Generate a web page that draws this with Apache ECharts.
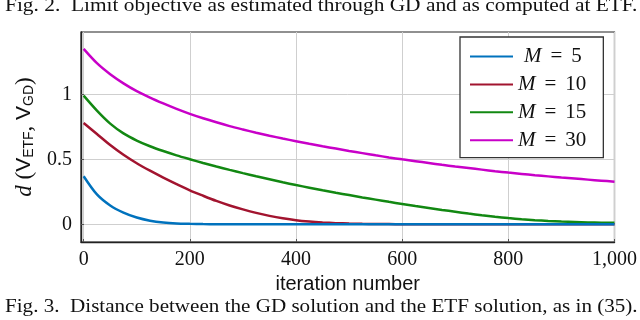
<!DOCTYPE html>
<html>
<head>
<meta charset="utf-8">
<script src="https://cdn.jsdelivr.net/npm/echarts@6/dist/echarts.min.js"></script>
<style>html,body{margin:0;padding:0;background:#fff}#c{width:640px;height:320px}</style>
</head>
<body>
<div id="c"></div>
<script>
const iterations = [0,25,50,75,100,125,150,175,200,225,250,275,300,325,350,375,400,425,450,475,500,
                    525,550,575,600,625,650,675,700,725,750,775,800,825,850,875,900,925,950,975,1000];
const m5  = [0.37,0.23,0.145,0.09,0.052,0.028,0.014,0.007,0.004,0.002,0.001,0,0,0,0,0,0,0,0,0,0,
             0,0,0,0,0,0,0,0,0,0,0,0,0,0,0,0,0,0,0,0];
const m10 = [0.78,0.695,0.61,0.535,0.47,0.413,0.36,0.31,0.262,0.22,0.18,0.145,0.115,0.088,0.065,0.046,0.031,0.021,0.014,0.009,0.006,
             0.004,0.003,0.002,0.001,0,0,0,0,0,0,0,0,0,0,0,0,0,0,0,0];
const m15 = [0.99,0.875,0.775,0.70,0.645,0.601,0.564,0.531,0.501,0.472,0.445,0.419,0.394,0.37,0.347,0.324,0.302,0.282,0.262,0.243,0.225,
             0.207,0.19,0.173,0.157,0.141,0.126,0.111,0.097,0.083,0.07,0.058,0.048,0.039,0.032,0.026,0.021,0.018,0.015,0.013,0.012];
const m30 = [1.35,1.24,1.155,1.085,1.025,0.975,0.93,0.888,0.85,0.816,0.785,0.756,0.73,0.705,0.682,0.66,0.64,0.62,0.601,0.583,0.565,
             0.548,0.531,0.515,0.50,0.486,0.472,0.458,0.445,0.433,0.421,0.409,0.398,0.388,0.378,0.369,0.36,0.352,0.344,0.336,0.328];
const seriesNames = ['M = 5','M = 10','M = 15','M = 30'];
const seriesValues = [m5, m10, m15, m30];
const colors = ['#0072BD','#A2142F','#128812','#C800C8'];
const xTicks = [0,200,400,600,800,1000];
const yTicks = [0,0.5,1];
const topCaption = 'Fig. 2.  Limit objective as estimated through GD and as computed at ETF.';
const bottomCaption = 'Fig. 3.  Distance between the GD solution and the ETF solution, as in (35).';

const chart = echarts.init(document.getElementById('c'), null, {renderer:'canvas'});
const serif = '"Liberation Serif", "DejaVu Serif", serif';
const sans = '"Liberation Sans", Arial, sans-serif';

chart.setOption({
  animation: false,
  backgroundColor: '#fff',
  grid: {left: 81, right: 25, top: 32, bottom: 78, show: true, borderColor: '#222', borderWidth: 1.2, backgroundColor: 'transparent'},
  xAxis: {
    type: 'value', min: -5, max: 1000,
    name: 'iteration number', nameLocation: 'middle', nameGap: 24,
    nameTextStyle: {fontFamily: sans, fontSize: 20, color: '#111', verticalAlign: 'top'},
    axisLine: {onZero: false, lineStyle: {color: '#222', width: 1.4}},
    axisTick: {show: true, inside: true, length: 3, customValues: xTicks, lineStyle: {color: '#555'}},
    axisLabel: {customValues: xTicks, fontFamily: serif, fontSize: 20, color: '#111', margin: 8,
      formatter: v => v >= 1000 ? String(v).replace(/\B(?=(\d{3})+(?!\d))/g, ',') : String(v)},
    splitLine: {show: true, lineStyle: {color: '#cfcfcf', width: 1}}
  },
  yAxis: {
    type: 'value', min: -0.136, max: 1.48,
    name: '{d|d}{p| (}{v|V}{s|ETF}{p|, }{v|V}{s|GD}{p|)}', nameLocation: 'middle', nameGap: 38, nameRotate: 90,
    nameTextStyle: {
      rich: {
        d: {fontFamily: serif, fontStyle: 'italic', fontSize: 23, color: '#111'},
        p: {fontFamily: serif, fontSize: 23, color: '#111'},
        v: {fontFamily: sans, fontSize: 21, color: '#111'},
        s: {fontFamily: sans, fontSize: 14, color: '#111', padding: [9,0,0,0]}
      }
    },
    axisLine: {onZero: false, lineStyle: {color: '#222', width: 1.4}},
    axisTick: {show: true, inside: true, length: 3, customValues: yTicks, lineStyle: {color: '#555'}},
    axisLabel: {customValues: yTicks, fontFamily: serif, fontSize: 20, color: '#111', margin: 9,
      formatter: v => String(v)},
    splitLine: {show: true, lineStyle: {color: '#cfcfcf', width: 1}}
  },
  legend: {
    left: 460, top: 37, orient: 'vertical',
    padding: [9, 17, 7, 9],
    itemWidth: 43, itemHeight: 14, itemGap: 6.9,
    borderColor: '#333', borderWidth: 1.3, backgroundColor: '#fff',
    itemStyle: {opacity: 0},
    data: seriesNames,
    formatter: n => {
      const num = n.split('= ')[1];
      return (num.length === 1 ? '{i2|M}' : '{i|M}') + '{e|=}{t|' + num + '}';
    },
    textStyle: {
      rich: {
        i: {fontFamily: serif, fontStyle: 'italic', fontSize: 21, color: '#111'},
        i2: {fontFamily: serif, fontStyle: 'italic', fontSize: 21, color: '#111', padding: [0,0,0,6]},
        e: {fontFamily: serif, fontSize: 21, color: '#111', padding: [0,9,0,9]},
        t: {fontFamily: serif, fontSize: 21, color: '#111'}
      }
    }
  },
  graphic: [
    {type: 'text', x: 5, y: 6, scaleX: 1.125, z: 10,
     style: {text: topCaption, font: '19px "Liberation Serif"', fill: '#111', align: 'left', verticalAlign: 'middle'}},
    {type: 'text', x: 5, y: 307.5, scaleX: 1.11, z: 10,
     style: {text: bottomCaption, font: '19px "Liberation Serif"', fill: '#111', align: 'left', verticalAlign: 'middle'}}
  ],
  series: seriesNames.map((n, i) => ({
    name: n, type: 'line', smooth: 0.3,
    showSymbol: false, symbol: 'none',
    lineStyle: {color: colors[i], width: 2.5},
    itemStyle: {color: colors[i]},
    data: iterations.map((x, k) => [x, seriesValues[i][k]]),
    z: 3 + (3 - i)
  }))
});
</script>
</body>
</html>
